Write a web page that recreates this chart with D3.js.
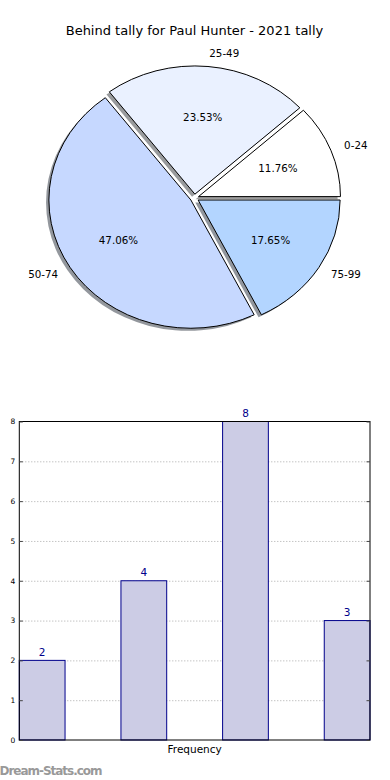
<!DOCTYPE html>
<html>
<head>
<meta charset="utf-8">
<script src="https://cdn.jsdelivr.net/npm/d3@7"></script>
<style>
  html, body { margin: 0; padding: 0; background: #fff; }
  svg { display: block; font-family: "DejaVu Sans", sans-serif; }
</style>
</head>
<body>
<svg id="chart" width="390" height="780"></svg>
<script>
// ---- data ----
const title = "Behind tally for Paul Hunter - 2021 tally";
const categories = ["0-24", "25-49", "50-74", "75-99"];
const counts = [2, 4, 8, 3];
const sliceColors = ["#ffffff", "#eaf1ff", "#c6d8ff", "#b3d5ff"];
const yTicks = [0, 1, 2, 3, 4, 5, 6, 7, 8];
const xLabel = "Frequency";
const watermark = "Dream-Stats.com";

(function () {
const svg = d3.select("#chart");

// ---- title ----
svg.append("text")
  .attr("x", 194.5).attr("y", 34.5)
  .attr("text-anchor", "middle")
  .attr("font-size", "13px")
  .attr("fill", "#000")
  .text(title);

// ---- pie ----
const cx = 194.5, cy = 198, R = 142, ys = 0.903, explode = 0.03;
const total = d3.sum(counts);
const pieData = d3.pie().sort(null).value(d => d.v)
  .startAngle(Math.PI / 2).endAngle(Math.PI / 2 - 2 * Math.PI)(counts.map((v, i) => ({ v, i })));
const arc = d3.arc().innerRadius(0).outerRadius(R);

function midDir(d) {
  const m = (d.startAngle + d.endAngle) / 2;
  return [Math.sin(m), -Math.cos(m)];
}

const pieG = svg.append("g").attr("transform", `translate(${cx},${cy}) scale(1,${ys})`);

// shadows
pieG.selectAll("path.shadow").data(pieData).enter().append("path")
  .attr("class", "shadow")
  .attr("d", arc)
  .attr("transform", d => {
    const [ux, uy] = midDir(d);
    return `translate(${ux * explode * R - 0.02 * R},${uy * explode * R + 0.02 * R})`;
  })
  .attr("fill", d => {
    const c = d3.rgb(sliceColors[d.data.i]);
    return d3.rgb(c.r * 0.3, c.g * 0.3, c.b * 0.3).toString();
  })
  .attr("fill-opacity", 0.55)
  .attr("stroke", "none");

// wedges
pieG.selectAll("path.wedge").data(pieData).enter().append("path")
  .attr("class", "wedge")
  .attr("d", arc)
  .attr("transform", d => {
    const [ux, uy] = midDir(d);
    return `translate(${ux * explode * R},${uy * explode * R})`;
  })
  .attr("fill", d => sliceColors[d.data.i])
  .attr("stroke", "#000")
  .attr("stroke-width", 1)
  .attr("stroke-linejoin", "round")
  .attr("vector-effect", "non-scaling-stroke");

// labels
pieData.forEach(d => {
  const [ux, uy] = midDir(d);
  const rl = explode * R + 1.1 * R;
  const rp = explode * R + 0.6 * R;
  svg.append("text")
    .attr("x", cx + ux * rl)
    .attr("y", cy + uy * rl * ys)
    .attr("dy", "0.35em")
    .attr("text-anchor", ux > 0 ? "start" : "end")
    .attr("font-size", "10.3px")
    .attr("fill", "#000")
    .text(categories[d.data.i]);
  svg.append("text")
    .attr("x", cx + ux * rp)
    .attr("y", cy + uy * rp * ys)
    .attr("dy", "0.35em")
    .attr("text-anchor", "middle")
    .attr("font-size", "10.3px")
    .attr("fill", "#000")
    .text((d.data.v / total * 100).toFixed(2) + "%");
});

// ---- bar chart ----
const pLeft = 19.3, pRight = 370, pTop = 421.5, pBottom = 740;
const x = d3.scaleBand().domain(categories).range([pLeft, pRight]).paddingInner(0.55).paddingOuter(0);
const y = d3.scaleLinear().domain([0, 8]).range([pBottom, pTop]);

// grid
const grid = svg.append("g").attr("transform", `translate(${pLeft},0)`)
  .call(d3.axisRight(y).tickValues(yTicks.slice(1, -1)).tickSize(pRight - pLeft).tickFormat(""));
grid.select(".domain").remove();
grid.selectAll("line").attr("stroke", "#aaaaaa").attr("stroke-width", 1).attr("stroke-dasharray", "1,2");

// bars
svg.selectAll("rect.bar").data(counts).enter().append("rect")
  .attr("class", "bar")
  .attr("x", (d, i) => x(categories[i]))
  .attr("y", d => y(d))
  .attr("width", x.bandwidth())
  .attr("height", d => y(0) - y(d))
  .attr("fill", "#ccccE5")
  .attr("stroke", "#00008b")
  .attr("stroke-width", 1);

svg.selectAll("text.val").data(counts).enter().append("text")
  .attr("class", "val")
  .attr("x", (d, i) => x(categories[i]) + x.bandwidth() / 2)
  .attr("y", d => y(d) - 4.5)
  .attr("text-anchor", "middle")
  .attr("font-size", "10.5px")
  .attr("fill", "#00008b")
  .text(d => d);

// frame
svg.append("rect")
  .attr("x", pLeft).attr("y", pTop)
  .attr("width", pRight - pLeft).attr("height", pBottom - pTop)
  .attr("fill", "none").attr("stroke", "#000").attr("stroke-width", 1);

// left axis (ticks inward)
const yAx = svg.append("g").attr("transform", `translate(${pLeft},0)`)
  .call(d3.axisLeft(y).tickValues(yTicks).tickSizeInner(-3.5).tickSizeOuter(0).tickPadding(4).tickFormat(d3.format("d")));
yAx.select(".domain").remove();
yAx.selectAll("line").attr("stroke", "#444");
yAx.selectAll("text").attr("font-size", "7.5px").attr("fill", "#000").attr("font-family", "DejaVu Sans, sans-serif");

// right axis ticks inward
const yAxR = svg.append("g").attr("transform", `translate(${pRight},0)`)
  .call(d3.axisRight(y).tickValues(yTicks).tickSizeInner(-3.5).tickSizeOuter(0).tickFormat(""));
yAxR.select(".domain").remove();
yAxR.selectAll("line").attr("stroke", "#444");

// x label
svg.append("text")
  .attr("x", (pLeft + pRight) / 2).attr("y", 753)
  .attr("text-anchor", "middle")
  .attr("font-size", "10.5px")
  .attr("fill", "#000")
  .text(xLabel);

// watermark
svg.append("text")
  .attr("x", -0.5).attr("y", 775)
  .attr("font-size", "12px")
  .attr("font-weight", "600")
  .attr("fill", "#999999")
  .attr("textLength", 103)
  .text(watermark);
})();
</script>
</body>
</html>
